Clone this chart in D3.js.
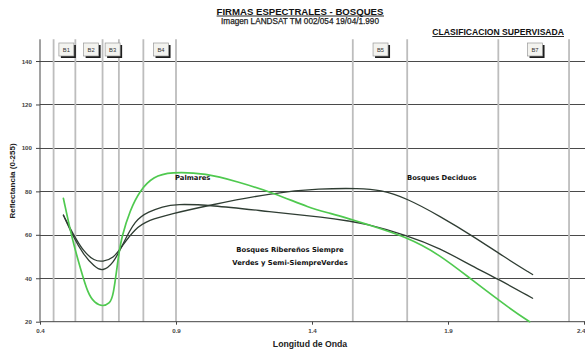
<!DOCTYPE html>
<html>
<head>
<meta charset="utf-8">
<script src="https://cdn.jsdelivr.net/npm/d3@7"></script>
<style>
  html, body { margin: 0; padding: 0; background: #fff; }
  svg { display: block; }
</style>
</head>
<body>
<svg id="chart" width="585" height="352"></svg>
<script>
// Longitud de onda (µm) y reflectancia de cada firma
const wlPalmares = [0.486, 0.52, 0.55, 0.575, 0.60, 0.632, 0.655, 0.669, 0.688, 0.70, 0.731, 0.768, 0.817, 0.878, 1.013, 1.123, 1.258, 1.393, 1.466, 1.546, 1.589, 1.748, 1.871, 1.98, 2.134, 2.20];
const palmares   = [76.8, 57, 44, 33.3, 28.6, 26.9, 28.5, 31, 50, 59, 71.4, 80.6, 86.8, 89, 88.3, 84.5, 79.4, 72.2, 70, 67, 65.3, 59.1, 50.7, 40, 25.4, 20];

const wlRiberenos = [0.486, 0.52, 0.56, 0.60, 0.63, 0.67, 0.70, 0.75, 0.80, 0.85, 0.90, 1.025, 1.246, 1.45, 1.546, 1.589, 1.748, 1.871, 1.993, 2.079, 2.211];
const riberenos   = [69.1, 59.5, 50.8, 45.3, 43, 46.9, 54.5, 67.1, 70.6, 73, 74.2, 73.7, 70.6, 68, 66.1, 65.3, 59.9, 53.8, 45.3, 40, 30.8];

const wlDeciduos = [0.486, 0.52, 0.56, 0.60, 0.63, 0.67, 0.70, 0.75, 0.80, 0.878, 1.025, 1.258, 1.429, 1.576, 1.65, 1.748, 1.871, 1.993, 2.103, 2.211];
const deciduos   = [69, 60.7, 52.2, 48, 47.6, 49.2, 54.5, 63, 66.8, 69.5, 73.7, 79.4, 81.3, 81.4, 80.7, 76.9, 68.5, 59.3, 50.1, 41.7];

// Límites de las bandas TM (líneas verticales) y rótulos
const bandEdges   = [0.45, 0.53, 0.63, 0.69, 0.78, 0.90, 1.55, 1.75, 2.085, 2.345];
const bandLabels  = ["B1", "B2", "B3", "B4", "B5", "B7"];
const bandCenters = [0.497, 0.588, 0.667, 0.845, 1.652, 2.22];

// Ejes
const xTicks = [0.4, 0.9, 1.4, 1.9, 2.4];
const yTicks = [20, 40, 60, 80, 100, 120, 140];

const svg = d3.select("#chart");
const x = d3.scaleLinear().domain([0.4, 2.4]).range([40, 584]);
const y = d3.scaleLinear().domain([20, 150]).range([321.7, 39.3]);
const yTop = y(150), yBot = y(20);

// Rejilla horizontal
svg.append("g").selectAll("line").data(yTicks.filter(d => d > 20)).join("line")
  .attr("x1", x(0.4)).attr("x2", 585)
  .attr("y1", d => Math.round(y(d)) + 0.5).attr("y2", d => Math.round(y(d)) + 0.5)
  .attr("stroke", "#4a4a4a").attr("stroke-width", 1);

// Líneas de las bandas
svg.append("g").selectAll("line").data(bandEdges).join("line")
  .attr("x1", d => x(d)).attr("x2", d => x(d))
  .attr("y1", yTop).attr("y2", yBot)
  .attr("stroke", "#bdbdbd").attr("stroke-width", 1.8);

// Eje Y
const yAxis = svg.append("g").attr("transform", `translate(${x(0.4)},0)`)
  .call(d3.axisLeft(y).tickValues(yTicks).tickSize(4).tickFormat(d3.format("d")));
yAxis.select(".domain").attr("d", `M0,${yTop}V${yBot}`).attr("stroke", "#444");
yAxis.selectAll(".tick line").attr("stroke", "#444");
yAxis.selectAll("text").attr("font-family", "Liberation Sans, Arial, sans-serif")
  .attr("font-size", 6.2).attr("font-weight", "bold").attr("fill", "#444").attr("dx", -1);

// Eje X
const xAxis = svg.append("g").attr("transform", `translate(0,${yBot})`)
  .call(d3.axisBottom(x).tickValues(xTicks).tickSize(3).tickFormat(d3.format(".1f")));
xAxis.select(".domain").attr("d", `M${x(0.4)},0H585`).attr("stroke", "#444");
xAxis.selectAll(".tick line").attr("stroke", "#444");
xAxis.selectAll("text").attr("font-family", "Liberation Sans, Arial, sans-serif")
  .attr("font-size", 6.2).attr("font-weight", "bold").attr("fill", "#444").attr("dy", 5);
// el último rótulo queda pegado al borde derecho
xAxis.selectAll(".tick text").filter(d => d === 2.4).attr("text-anchor", "end").attr("dx", 1);

// Curvas espectrales (suavizadas con B-spline)
const line = d3.line().curve(d3.curveBasis);
const series = [
  { wl: wlDeciduos, v: deciduos, color: "#2f3d33", w: 1.3 },
  { wl: wlRiberenos, v: riberenos, color: "#2f3d33", w: 1.3 },
  { wl: wlPalmares, v: palmares, color: "#4fc94f", w: 1.7 }
];
svg.append("g").selectAll("path").data(series).join("path")
  .attr("d", s => line(s.wl.map((w, i) => [x(w), y(s.v[i])])))
  .attr("fill", "none").attr("stroke", s => s.color).attr("stroke-width", s => s.w)
  .attr("stroke-linejoin", "round").attr("stroke-linecap", "round");

// Rótulos de banda (botones)
const bw = 15, bh = 13;
const bands = svg.append("g").selectAll("g").data(bandLabels).join("g")
  .attr("transform", (d, i) => `translate(${x(bandCenters[i]) - bw / 2},43)`);
bands.append("rect").attr("x", 2).attr("y", 2).attr("width", bw).attr("height", bh).attr("fill", "#1e1e1e");
bands.append("rect").attr("x", 0).attr("y", 0).attr("width", bw).attr("height", bh)
  .attr("fill", "#f3f3ef").attr("stroke", "#9a9a9a").attr("stroke-width", 0.7);
bands.append("text").attr("x", bw / 2).attr("y", bh / 2 + 2)
  .attr("text-anchor", "middle").attr("font-family", "Liberation Sans, Arial, sans-serif")
  .attr("font-size", 5.8).attr("fill", "#333").text(d => d);

// Rótulos de las curvas
const lab = svg.append("g").attr("font-family", "DejaVu Sans, sans-serif")
  .attr("font-size", 6.8).attr("font-weight", "bold").attr("fill", "#111");
lab.append("text").attr("x", 175).attr("y", 180).text("Palmares");
lab.append("text").attr("x", 407).attr("y", 180).text("Bosques Deciduos");
lab.append("text").attr("x", 290).attr("y", 252).attr("text-anchor", "middle").text("Bosques Ribereños Siempre");
lab.append("text").attr("x", 290).attr("y", 265).attr("text-anchor", "middle").text("Verdes y Semi-SiempreVerdes");

// Títulos
const t1 = svg.append("text").attr("x", 300).attr("y", 14.5).attr("text-anchor", "middle")
  .attr("font-family", "Liberation Sans, Arial, sans-serif").attr("font-size", 9.6)
  .attr("font-weight", "bold").attr("fill", "#111").text("FIRMAS ESPECTRALES - BOSQUES");
const t3 = svg.append("text").attr("x", 564).attr("y", 35).attr("text-anchor", "end")
  .attr("font-family", "Liberation Sans, Arial, sans-serif").attr("font-size", 8.6)
  .attr("font-weight", "bold").attr("fill", "#111").text("CLASIFICACION SUPERVISADA");
[t1, t3].forEach(t => {
  const b = t.node().getBBox();
  svg.append("line").attr("x1", b.x).attr("x2", b.x + b.width)
    .attr("y1", +t.attr("y") + 1.5).attr("y2", +t.attr("y") + 1.5)
    .attr("stroke", "#111").attr("stroke-width", 0.9);
});
svg.append("text").attr("x", 300).attr("y", 23.8).attr("text-anchor", "middle")
  .attr("font-family", "Liberation Sans, Arial, sans-serif").attr("font-size", 8.2)
  .attr("fill", "#222").attr("stroke", "#222").attr("stroke-width", 0.25)
  .text("Imagen LANDSAT TM 002/054 19/04/1.990");

svg.append("text").attr("x", 310).attr("y", 347).attr("text-anchor", "middle")
  .attr("font-family", "Liberation Sans, Arial, sans-serif").attr("font-size", 8.7)
  .attr("font-weight", "bold").attr("fill", "#222").text("Longitud de Onda");
svg.append("text").attr("transform", "translate(15,181) rotate(-90)").attr("text-anchor", "middle")
  .attr("font-family", "Liberation Sans, Arial, sans-serif").attr("font-size", 8)
  .attr("font-weight", "bold").attr("fill", "#222").text("Reflectancia (0-255)");
</script>
</body>
</html>
